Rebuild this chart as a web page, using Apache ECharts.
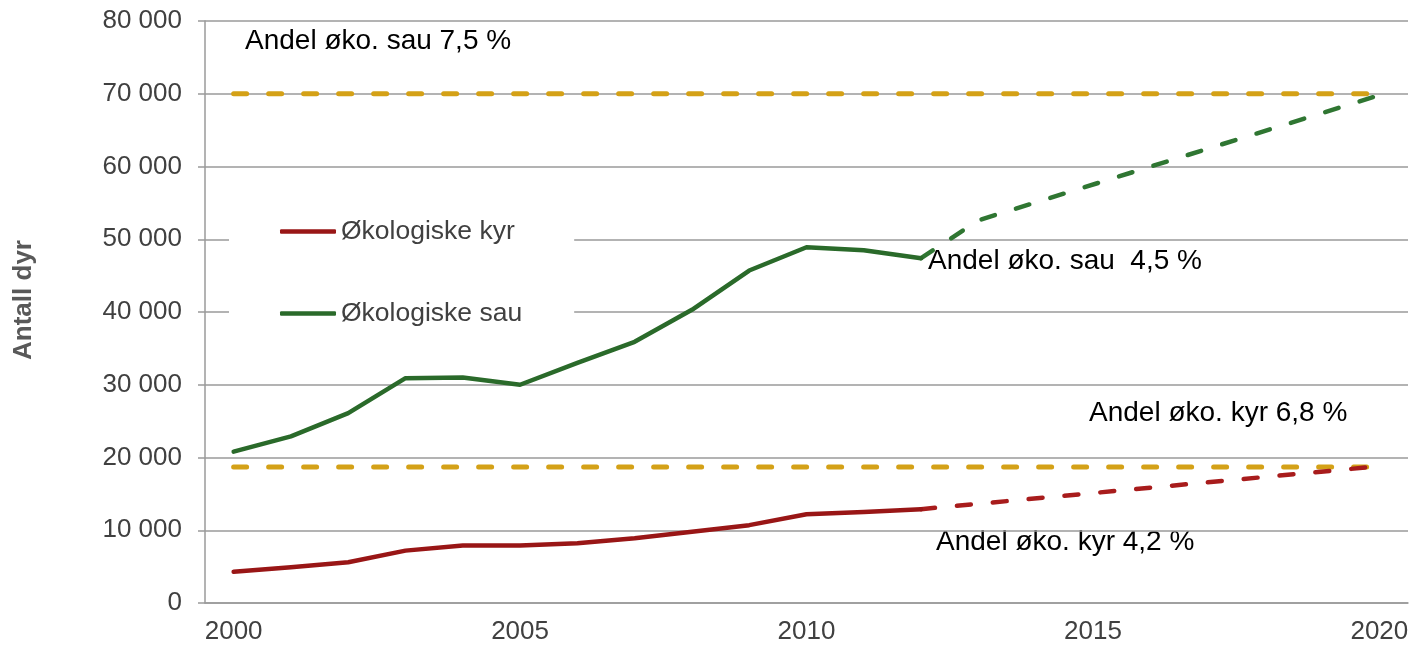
<!DOCTYPE html>
<html lang="no">

<head>
    <title></title>
    <meta charset="UTF-8">
    <script src="https://cdn.jsdelivr.net/npm/echarts@6/dist/echarts.min.js"></script>
</head>
<style>
    body {
        margin: 0;
        padding: 0;
        background: #fff;
    }
</style>

<body>
    <div id="main" style="width: 1412px;height:647px;"></div>

    <script type="text/javascript">
        // år (kategorier)
        var years = ['2000', '2001', '2002', '2003', '2004', '2005', '2006', '2007', '2008', '2009', '2010',
            '2011', '2012', '2013', '2014', '2015', '2016', '2017', '2018', '2019', '2020'];

        // økologiske dyr 2000-2012
        var kyr = [4300, 4900, 5600, 7200, 7900, 7900, 8200, 8900, 9800, 10700, 12200, 12500, 12900];
        var sau = [20800, 22900, 26100, 30900, 31000, 30000, 33000, 35900, 40300, 45700, 48900, 48500, 47400];

        // framskriving mot 2020
        var kyrProj = [['2012', 12900], ['2020', 18800]];
        var sauProj = [['2012', 47400], ['2013', 52600], ['2020', 69800]];

        // mål-linjer
        var maalSau = [['2000', 70000], ['2020', 70000]];
        var maalKyr = [['2000', 18700], ['2020', 18700]];

        var yTicks = [0, 10000, 20000, 30000, 40000, 50000, 60000, 70000, 80000];

        var myChart = echarts.init(document.getElementById('main'));

        var font = '"Liberation Sans", Arial, sans-serif';

        option = {
            backgroundColor: '#fff',
            animation: false,
            textStyle: { fontFamily: font },
            grid: {
                left: 205,
                right: 4,
                top: 21,
                bottom: 44
            },
            legend: {
                orient: 'vertical',
                left: 229,
                top: 193,
                padding: [25, 52, 25, 51],
                backgroundColor: '#fff',
                icon: 'roundRect',
                itemWidth: 56,
                itemHeight: 4.5,
                itemGap: 55,
                data: ['Økologiske kyr', 'Økologiske sau'],
                textStyle: {
                    color: '#404040',
                    fontSize: 26.5,
                    lineHeight: 26,
                    fontFamily: font
                }
            },
            xAxis: {
                type: 'category',
                data: years,
                boundaryGap: true,
                axisLine: { lineStyle: { color: '#9a9a9a', width: 1.5 } },
                axisTick: {
                    interval: 0,
                    length: 7,
                    lineStyle: { color: '#9a9a9a', width: 1.5 }
                },
                axisLabel: {
                    interval: 4,
                    margin: 16,
                    color: '#404040',
                    fontSize: 26,
                    fontFamily: font
                }
            },
            yAxis: {
                type: 'value',
                min: yTicks[0],
                max: yTicks[yTicks.length - 1],
                interval: 10000,
                axisLine: { show: true, lineStyle: { color: '#9a9a9a', width: 1.5 } },
                axisTick: { show: true, length: 7, lineStyle: { color: '#9a9a9a', width: 1.5 } },
                splitLine: { lineStyle: { color: '#9a9a9a', width: 1.5 } },
                axisLabel: {
                    margin: 23,
                    color: '#404040',
                    fontSize: 26,
                    fontFamily: font,
                    formatter: function (v) {
                        return String(v).replace(/\B(?=(\d{3})+(?!\d))/g, ' ');
                    }
                }
            },
            graphic: [{
                type: 'text',
                x: 24,
                y: 300,
                rotation: Math.PI / 2,
                style: {
                    text: 'Antall dyr',
                    fill: '#595959',
                    font: 'bold 26px ' + font,
                    align: 'center',
                    verticalAlign: 'middle'
                }
            }, {
                type: 'text',
                x: 245,
                y: 41,
                style: {
                    text: 'Andel øko. sau 7,5 %',
                    fill: '#000',
                    font: '28px ' + font,
                    verticalAlign: 'middle'
                }
            }, {
                type: 'text',
                x: 928,
                y: 261,
                style: {
                    text: 'Andel øko. sau  4,5 %',
                    fill: '#000',
                    font: '28px ' + font,
                    verticalAlign: 'middle'
                }
            }, {
                type: 'text',
                x: 1089,
                y: 413,
                style: {
                    text: 'Andel øko. kyr 6,8 %',
                    fill: '#000',
                    font: '28px ' + font,
                    verticalAlign: 'middle'
                }
            }, {
                type: 'text',
                x: 936,
                y: 542,
                style: {
                    text: 'Andel øko. kyr 4,2 %',
                    fill: '#000',
                    font: '28px ' + font,
                    verticalAlign: 'middle'
                }
            }],
            series: [{
                name: 'Mål sau',
                type: 'line',
                symbol: 'none',
                data: maalSau,
                lineStyle: { color: '#d4a117', width: 5, type: [13, 22], cap: 'round' },
                z: 1
            }, {
                name: 'Mål kyr',
                type: 'line',
                symbol: 'none',
                data: maalKyr,
                lineStyle: { color: '#d4a117', width: 5, type: [13, 22], cap: 'round' },
                z: 1
            }, {
                name: 'Økologiske kyr',
                type: 'line',
                symbol: 'none',
                data: kyr,
                itemStyle: { color: '#991616' },
                lineStyle: { color: '#991616', width: 4.5, cap: 'round', join: 'round' },
                z: 3
            }, {
                name: 'Økologiske sau',
                type: 'line',
                symbol: 'none',
                data: sau,
                itemStyle: { color: '#2a6a2a' },
                lineStyle: { color: '#2a6a2a', width: 4.5, cap: 'round', join: 'round' },
                z: 3
            }, {
                name: 'Framskriving kyr',
                type: 'line',
                symbol: 'none',
                data: kyrProj,
                lineStyle: { color: '#a81c1c', width: 4.5, type: [14, 22], cap: 'round' },
                z: 2
            }, {
                name: 'Framskriving sau',
                type: 'line',
                symbol: 'none',
                data: sauProj,
                lineStyle: { color: '#2f7632', width: 4.5, type: [14, 22], cap: 'round', join: 'round' },
                z: 2
            }]
        };
        myChart.setOption(option);
    </script>
</body>

</html>
